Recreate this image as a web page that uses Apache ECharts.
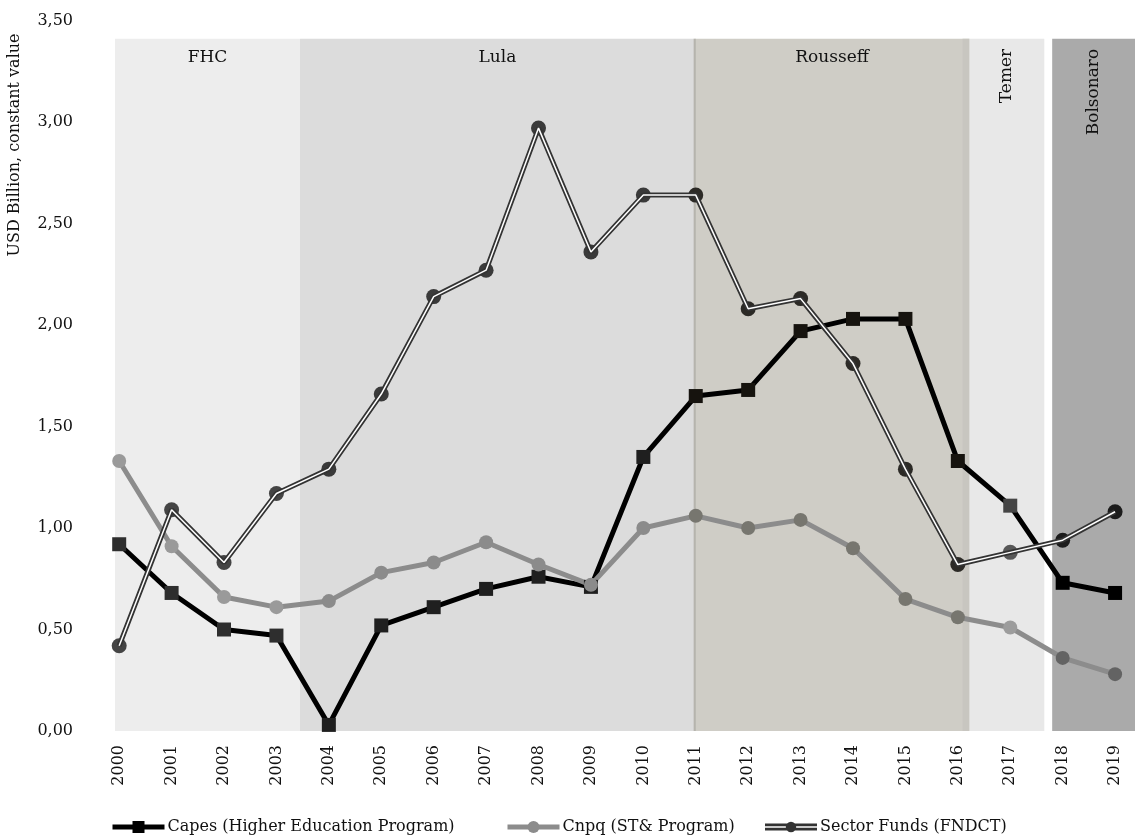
<!DOCTYPE html>
<html>
<head>
<meta charset="utf-8">
<script src="https://cdn.jsdelivr.net/npm/echarts@6/dist/echarts.min.js"></script>
<style>
html, body { margin: 0; padding: 0; background: #fff; }
#main { width: 1135px; height: 837px; }
</style>
</head>
<body>
<div id="main"></div>
<script>
var years = [2000, 2001, 2002, 2003, 2004, 2005, 2006, 2007, 2008, 2009, 2010, 2011, 2012, 2013, 2014, 2015, 2016, 2017, 2018, 2019];
var capes = [0.92, 0.68, 0.50, 0.47, 0.03, 0.52, 0.61, 0.70, 0.76, 0.71, 1.35, 1.65, 1.68, 1.97, 2.03, 2.03, 1.33, 1.11, 0.73, 0.68];
var cnpq = [1.33, 0.91, 0.66, 0.61, 0.64, 0.78, 0.83, 0.93, 0.82, 0.72, 1.00, 1.06, 1.00, 1.04, 0.90, 0.65, 0.56, 0.51, 0.36, 0.28];
var sector = [0.42, 1.09, 0.83, 1.17, 1.29, 1.66, 2.14, 2.27, 2.97, 2.36, 2.64, 2.64, 2.08, 2.13, 1.81, 1.29, 0.82, 0.88, 0.94, 1.08];

// presidential terms (x in years)
var periodNames = ['FHC', 'Lula', 'Rousseff', 'Temer', 'Bolsonaro'];
var periodStart = [1999.92, 2003.45, 2010.98, 2016.22, 2017.80];
var periodEnd = [2003.45, 2010.98, 2016.22, 2017.65, 2019.38];

var FONT = '"DejaVu Serif", serif';
var boxColors = ['#ededed', '#dcdcdc', '#cfcdc6', '#e8e8e8', '#aaaaaa'];
var capesColors = ['#2e2e2e', '#1f1f1f', '#16130e', '#454545', '#000000'];
var cnpqColors = ['#9a9a9a', '#8b8b8b', '#77766f', '#9c9c9c', '#636363'];
var sectorColors = ['#444444', '#3a3a3a', '#2c2a26', '#575757', '#1c1c1c'];

var chart = echarts.init(document.getElementById('main'));

function pairs(vals) {
    return years.map(function (y, i) { return [y, vals[i]]; });
}

// colour of a line changes where it enters another term box
function pieces(colors) {
    var cut = [periodEnd[0], periodEnd[1], periodEnd[2], (periodEnd[3] + periodStart[4]) / 2];
    return [
        { lt: cut[0], color: colors[0] },
        { gte: cut[0], lt: cut[1], color: colors[1] },
        { gte: cut[1], lt: cut[2], color: colors[2] },
        { gte: cut[2], lt: cut[3], color: colors[3] },
        { gte: cut[3], color: colors[4] }
    ];
}

var areas = periodNames.map(function (n, i) {
    var vertical = i >= 3;
    return [{
        name: n,
        xAxis: periodStart[i],
        yAxis: 0,
        itemStyle: { color: boxColors[i] },
        label: vertical ? {
            rotate: 90, position: 'insideTop', distance: 10,
            align: 'right', verticalAlign: 'middle'
        } : { position: 'insideTop', distance: 10 }
    }, {
        xAxis: periodEnd[i],
        yAxis: 3.41
    }];
});
// thin edges of Rousseff box
areas.push([{ xAxis: 2010.96, yAxis: 0, itemStyle: { color: '#b6b4ad' }, label: { show: false } }, { xAxis: 2011.0, yAxis: 3.41 }]);
areas.push([{ xAxis: 2016.09, yAxis: 0, itemStyle: { color: '#c8c6c0' }, label: { show: false } }, { xAxis: 2016.22, yAxis: 3.41 }]);

var CAPES = 'Capes (Higher Education Program)';
var CNPQ = 'Cnpq (ST& Program)';
var SECTOR = 'Sector Funds (FNDCT)';

function legendAt(left, item) {
    return {
        left: left,
        top: 814,
        itemWidth: 52,
        itemHeight: 15,
        itemGap: 0,
        textStyle: { fontFamily: FONT, fontSize: 16, color: '#111', padding: [0, 0, 0, -2] },
        data: [item]
    };
}

option = {
    backgroundColor: '#fff',
    animation: false,
    grid: { left: 115, right: 0, top: 20.5, bottom: 106, outerBoundsMode: 'none' },
    xAxis: {
        type: 'value',
        min: 1999.92,
        max: 2019.38,
        axisLine: { show: false },
        axisTick: { show: false },
        splitLine: { show: false },
        axisLabel: {
            customValues: years,
            rotate: 90, margin: 14, fontFamily: FONT, fontSize: 16, color: '#111',
            formatter: function (v) { return String(v); }
        }
    },
    yAxis: {
        type: 'value',
        min: 0,
        max: 3.5,
        interval: 0.5,
        axisLine: { show: false },
        axisTick: { show: false },
        splitLine: { show: false },
        axisLabel: {
            margin: 42, fontFamily: FONT, fontSize: 16, color: '#111',
            formatter: function (v) { return v.toFixed(2).replace('.', ','); }
        }
    },
    graphic: [{
        type: 'text',
        x: 15, y: 145,
        rotation: Math.PI / 2,
        style: {
            text: 'USD Billion, constant value',
            font: '16px ' + FONT,
            fill: '#111',
            align: 'center',
            verticalAlign: 'middle'
        }
    }],
    legend: [
        legendAt(105, { name: CAPES, lineStyle: { width: 5 } }),
        legendAt(500, { name: CNPQ, lineStyle: { width: 5 } }),
        legendAt(760, { name: SECTOR, icon: 'path://M0,0H60V8H0Z M0,3V5H60V3Z M24,4A6,6,0,1,1,36,4A6,6,0,1,1,24,4Z' })
    ],
    visualMap: [
        { type: 'piecewise', show: false, dimension: 0, seriesIndex: 1, pieces: pieces(capesColors) },
        { type: 'piecewise', show: false, dimension: 0, seriesIndex: 2, pieces: pieces(cnpqColors) },
        { type: 'piecewise', show: false, dimension: 0, seriesIndex: 3, pieces: pieces(sectorColors) },
        { type: 'piecewise', show: false, dimension: 0, seriesIndex: 5, pieces: pieces(sectorColors) }
    ],
    series: [{
        name: 'periods',
        type: 'line',
        data: [],
        clip: false,
        silent: true,
        markArea: {
            silent: true,
            label: { color: '#111', fontFamily: FONT, fontSize: 17 },
            data: areas
        }
    }, {
        name: CAPES,
        type: 'line',
        data: pairs(capes),
        clip: false,
        symbol: 'rect',
        symbolSize: 14,
        itemStyle: { color: '#000' },
        lineStyle: { width: 5, color: '#000' }
    }, {
        name: CNPQ,
        type: 'line',
        data: pairs(cnpq),
        clip: false,
        symbol: 'circle',
        symbolSize: 14,
        itemStyle: { color: '#8c8c8c' },
        lineStyle: { width: 5, color: '#8c8c8c' }
    }, {
        name: SECTOR,
        type: 'line',
        data: pairs(sector),
        clip: false,
        symbol: 'none',
        itemStyle: { color: '#333' },
        lineStyle: { width: 5, color: '#333' }
    }, {
        name: SECTOR,
        type: 'line',
        data: pairs(sector),
        clip: false,
        symbol: 'none',
        silent: true,
        itemStyle: { color: '#fff' },
        lineStyle: { width: 1.5, color: '#fff' }
    }, {
        name: SECTOR,
        type: 'scatter',
        data: pairs(sector),
        clip: false,
        symbol: 'circle',
        symbolSize: 15,
        itemStyle: { color: '#333', opacity: 1 }
    }]
};
chart.setOption(option);
</script>
</body>
</html>
